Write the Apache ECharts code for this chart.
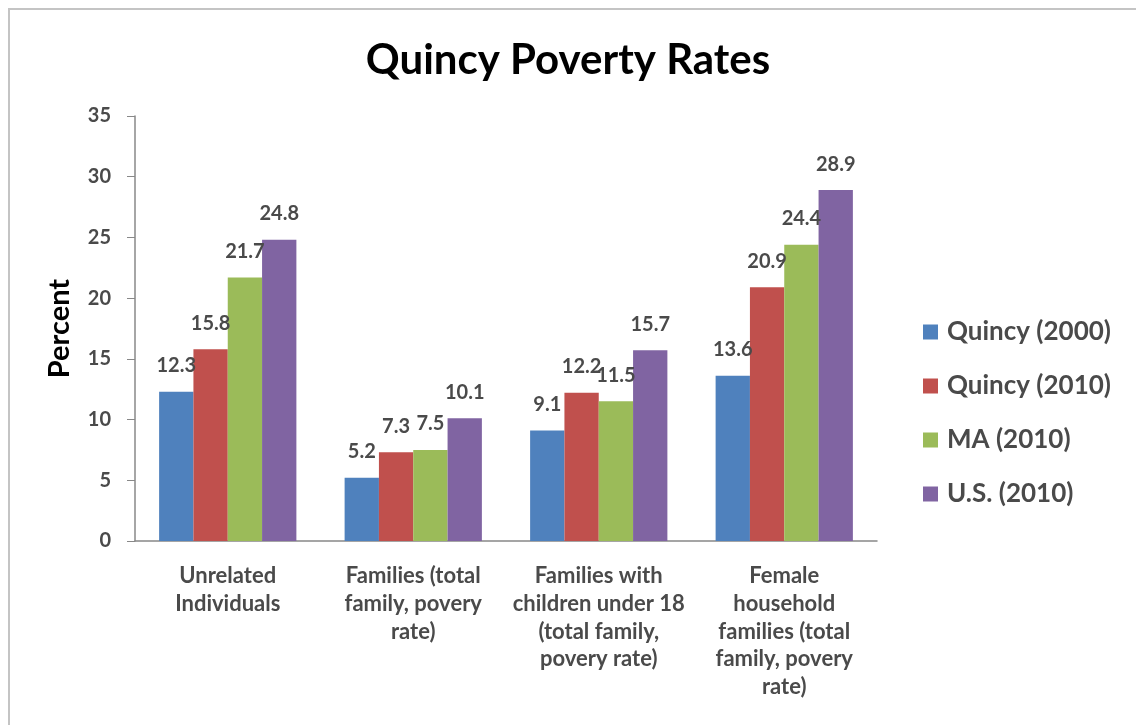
<!DOCTYPE html>
<html>
<head>
<meta charset="utf-8">
<script src="https://cdn.jsdelivr.net/npm/echarts@6/dist/echarts.min.js"></script>
<style>
  html, body { margin: 0; padding: 0; background: #fff; }
  .frame {
    position: absolute;
    left: 8px;
    top: 8px;
    width: 1140px;
    height: 730px;
    border: 2px solid #c4c4c4;
    box-sizing: border-box;
  }
  #chart { position: absolute; left: 0; top: 0; width: 1136px; height: 725px; }
</style>
</head>
<body>
<div class="frame"></div>
<div id="chart"></div>
<script>
const categories = [
  'Unrelated\nIndividuals',
  'Families (total\nfamily, povery\nrate)',
  'Families with\nchildren under 18\n(total family,\npovery rate)',
  'Female\nhousehold\nfamilies (total\nfamily, povery\nrate)'
]
const seriesNames = ['Quincy (2000)', 'Quincy (2010)', 'MA (2010)', 'U.S. (2010)']
const quincy2000 = [12.3, 5.2, 9.1, 13.6]
const quincy2010 = [15.8, 7.3, 12.2, 20.9]
const ma2010 = [21.7, 7.5, 11.5, 24.4]
const us2010 = [24.8, 10.1, 15.7, 28.9]
const yTicks = { min: 0, max: 35, interval: 5 }

const colors = ['#4f81bd', '#c0504d', '#9bbb59', '#8064a2']
const font = 'Lato, "Open Sans", sans-serif'
const textGray = '#4a4a4a'

const chart = echarts.init(document.getElementById('chart'))

const makeSeries = (name, data) => ({
  name,
  type: 'bar',
  data,
  barGap: '0%',
  barCategoryGap: '26%',
  label: {
    show: true,
    position: 'top',
    distance: 16,
    color: textGray,
    fontFamily: font,
    fontWeight: 'bold',
    fontSize: 20
  }
})

const option = {
  color: colors,
  animation: false,
  title: {
    text: 'Quincy Poverty Rates',
    left: 'center',
    top: 34,
    textStyle: {
      fontFamily: font,
      fontSize: 42,
      fontWeight: 'bold',
      color: '#000'
    }
  },
  grid: {
    left: 135,
    right: 259,
    top: 116,
    bottom: 184,
    containLabel: false
  },
  legend: {
    orient: 'vertical',
    left: 918,
    top: 313,
    itemWidth: 15,
    itemHeight: 15,
    itemGap: 26,
    icon: 'rect',
    data: seriesNames,
    textStyle: {
      fontFamily: font,
      fontSize: 26,
      fontWeight: 'bold',
      color: textGray,
      lineHeight: 28,
      padding: [0, 0, 0, 4]
    }
  },
  xAxis: {
    type: 'category',
    data: categories,
    axisLine: { lineStyle: { color: '#888', width: 1.5 } },
    axisTick: { show: false },
    axisLabel: {
      margin: 21,
      color: textGray,
      fontFamily: font,
      fontWeight: 'bold',
      fontSize: 22,
      lineHeight: 27.8,
      interval: 0
    }
  },
  yAxis: {
    type: 'value',
    min: yTicks.min,
    max: yTicks.max,
    interval: yTicks.interval,
    name: 'Percent',
    nameLocation: 'middle',
    nameGap: 61,
    nameTextStyle: {
      fontFamily: font,
      fontSize: 29,
      fontWeight: 'bold',
      color: '#000'
    },
    axisLine: { show: true, lineStyle: { color: '#888', width: 1.5 } },
    axisTick: { show: true, inside: false, length: 8, lineStyle: { color: '#888' } },
    splitLine: { show: false },
    axisLabel: {
      margin: 24,
      color: textGray,
      fontFamily: font,
      fontWeight: 'bold',
      fontSize: 20
    }
  },
  series: [
    makeSeries(seriesNames[0], quincy2000),
    makeSeries(seriesNames[1], quincy2010),
    makeSeries(seriesNames[2], ma2010),
    makeSeries(seriesNames[3], us2010)
  ]
}

chart.setOption(option)
window.addEventListener('resize', () => chart.resize())
</script>
</body>
</html>
